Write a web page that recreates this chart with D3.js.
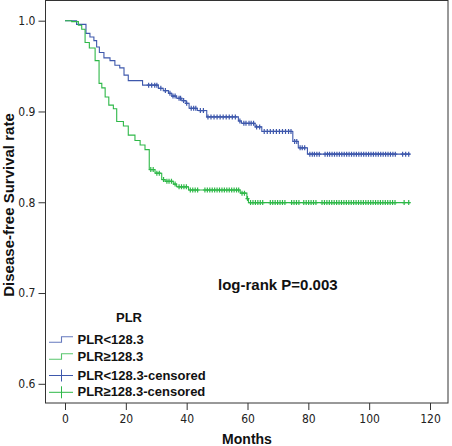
<!DOCTYPE html>
<html>
<head>
<meta charset="utf-8">
<script src="https://cdn.jsdelivr.net/npm/d3@7"></script>
<style>
  html, body { margin: 0; padding: 0; background: #fff; }
  svg { display: block; }
  text { font-family: "Liberation Sans", Arial, sans-serif; }
</style>
</head>
<body>
<svg id="chart" width="452" height="446"></svg>
<script>
// ---- data ----
const groups = ["PLR<128.3", "PLR\u2265128.3"];
const blueSteps = [[0,1.0],[3.8,0.996],[6.9,0.986],[8.2,0.982],[9.5,0.978],[10.4,0.971],[11.3,0.965],[12.8,0.959],[14.8,0.956],[16.4,0.951],[18,0.948],[19.4,0.940],[20.8,0.934],[25.5,0.929],[30.7,0.9255],[32.3,0.923],[34,0.920],[35.1,0.917],[36.7,0.9145],[38.4,0.912],[39.8,0.909],[40.8,0.9035],[43.5,0.901],[46.6,0.894],[57,0.8895],[58,0.887],[62.5,0.883],[64.7,0.878],[74.9,0.867],[76.7,0.860],[79.7,0.853],[113.5,0.853]];
const blueCensored = [27.5,28.5,29.5,30.2,31.5,33.0,34.5,35.5,36.2,37.5,38.0,39.0,40.0,41.5,42.3,43.0,44.5,45.5,47,48,49,50,51,52,53,54,55,56,57.5,58.8,59.5,60.5,61.2,62,63,64,65.5,66.5,67.5,68.5,69.5,70.5,71.5,72.5,73.5,74.3,75.5,76.2,77.3,78,78.8,80.5,81.3,82,82.8,83.6,85.5,86.3,87,87.8,88.6,89.4,90.2,91,91.8,92.6,93.4,94.2,95,95.8,96.6,97.4,98.2,99,99.8,100.6,101.4,102.2,103,103.8,104.6,105.4,106.2,107,107.8,108.6,111,112,113];
const greenSteps = [[0,1.0],[2.2,0.999],[4.4,0.995],[5.5,0.9905],[6.6,0.976],[8,0.970],[9.9,0.956],[11.2,0.931],[12.1,0.926],[13.2,0.916],[14.4,0.907],[15.9,0.903],[17,0.889],[19.2,0.884],[20.8,0.874],[23,0.868],[24.7,0.863],[26.3,0.858],[27.7,0.836],[29.6,0.832],[31.8,0.825],[32.9,0.823],[35.6,0.820],[36.7,0.817],[40.6,0.8135],[57.6,0.810],[59.8,0.804],[60.3,0.7996],[113.5,0.7996]];
const greenCensored = [28.2,29,30.2,31,32.4,33.5,34.2,35,36.2,37.5,38.3,39.1,39.9,41.2,42,42.8,43.6,46,46.8,47.6,48.4,49.2,50,50.8,51.6,52.4,53.2,54,54.8,55.6,56.4,57.1,58.2,59,60,61,61.8,62.6,63.4,64.2,65,67.5,68.3,69.1,69.9,70.7,71.5,72.3,74.5,75.3,76.1,76.9,78.5,79.3,80.1,80.9,81.7,82.5,84.5,85.3,86.1,86.9,87.7,88.5,89.3,90.1,90.9,91.7,92.5,93.3,94.1,94.9,95.7,96.5,97.3,98.1,98.9,99.7,100.5,101.3,102.1,102.9,103.7,104.5,105.3,106.1,106.9,107.7,108.5,111.5,113];
const xTicks = [0,20,40,60,80,100,120];
const yTicks = [0.6,0.7,0.8,0.9,1.0];
const legendTitle = "PLR";
const legendLabels = ["PLR<128.3", "PLR\u2265128.3", "PLR<128.3-censored", "PLR\u2265128.3-censored"];
const pText = "log-rank P=0.003";
const xLabel = "Months";
const yLabel = "Disease-free Survival rate";

// ---- layout ----
const colors = ["#3E58AC", "#2EB848"];
const frame = {left: 45, top: 0.5, right: 448, bottom: 403};
const svg = d3.select("#chart");

const x = d3.scaleLinear().domain([0, 120]).range([65, 430]);
const y = d3.scaleLinear().domain([0.6, 1.0]).range([383.8, 20.7]);

// frame
svg.append("rect")
  .attr("x", frame.left + 0.5).attr("y", frame.top)
  .attr("width", frame.right - frame.left - 0.5)
  .attr("height", frame.bottom - frame.top)
  .attr("fill", "none").attr("stroke", "#333").attr("stroke-width", 1);

// axes
const yAxis = svg.append("g").attr("transform", `translate(${frame.left + 0.5},0)`)
  .call(d3.axisLeft(y).tickValues(yTicks).tickSize(7).tickPadding(3).tickFormat(d3.format(".1f")));
const xAxis = svg.append("g").attr("transform", `translate(0,${frame.bottom})`)
  .call(d3.axisBottom(x).tickValues(xTicks).tickSize(7).tickPadding(4).tickFormat(d3.format("d")));
[xAxis, yAxis].forEach(g => {
  g.select(".domain").remove();
  g.selectAll(".tick line").attr("stroke", "#333");
  g.selectAll(".tick text").attr("fill", "#222")
    .style("font-family", "'Liberation Sans Narrow', 'Arial Narrow', 'DejaVu Sans Condensed', sans-serif")
    .style("font-size", "12px");
});

// axis titles
svg.append("text").attr("x", 247).attr("y", 444).attr("text-anchor", "middle")
  .style("font-size", "14px").style("font-weight", "bold").attr("fill", "#111").text(xLabel);
svg.append("text").attr("transform", "translate(14,205) rotate(-90)").attr("text-anchor", "middle")
  .style("font-size", "15px").style("font-weight", "bold").attr("fill", "#111").text(yLabel);

// curves
const line = d3.line().x(d => x(d[0])).y(d => y(d[1])).curve(d3.curveStepAfter);
function survAt(steps, t) {
  let s = steps[0][1];
  for (const st of steps) { if (st[0] <= t) s = st[1]; else break; }
  return s;
}
const series = [
  {steps: blueSteps, cens: blueCensored, color: colors[0]},
  {steps: greenSteps, cens: greenCensored, color: colors[1]}
];
series.forEach(s => {
  svg.append("path").attr("d", line(s.steps)).attr("fill", "none")
    .attr("stroke", s.color).attr("stroke-width", 1.1);
  const g = svg.append("g");
  s.cens.forEach(t => {
    const cx = x(t), cy = y(survAt(s.steps, t));
    g.append("path")
      .attr("d", `M${cx-2},${cy}H${cx+2}M${cx},${cy-2.5}V${cy+2.5}`)
      .attr("stroke", s.color).attr("stroke-width", 1.2).attr("fill", "none");
  });
});

// p-value text
svg.append("text").attr("x", 218).attr("y", 290)
  .style("font-size", "15px").style("font-weight", "bold").attr("fill", "#111").text(pText);

// legend
svg.append("text").attr("x", 116).attr("y", 322)
  .style("font-size", "13px").style("font-weight", "bold").attr("fill", "#111").text(legendTitle);
const legRows = [341.7, 358.7, 375.5, 392.3];
legendLabels.forEach((lab, i) => {
  const c = colors[i % 2];
  const yy = legRows[i];
  if (i < 2) {
    svg.append("path").attr("d", `M49,${yy+0.5}H61.5V${yy-5}H73`)
      .attr("fill", "none").attr("stroke", c).attr("stroke-width", 1.1).attr("opacity", 0.8);
  } else {
    svg.append("path").attr("d", `M49,${yy}H73M61.5,${yy-6}V${yy+6}`)
      .attr("fill", "none").attr("stroke", c).attr("stroke-width", 1);
  }
  svg.append("text").attr("x", 77.5).attr("y", yy + (i < 2 ? 2.5 : 4))
    .style("font-size", "13px").style("font-weight", "bold").attr("fill", "#111").text(lab);
});
</script>
</body>
</html>
